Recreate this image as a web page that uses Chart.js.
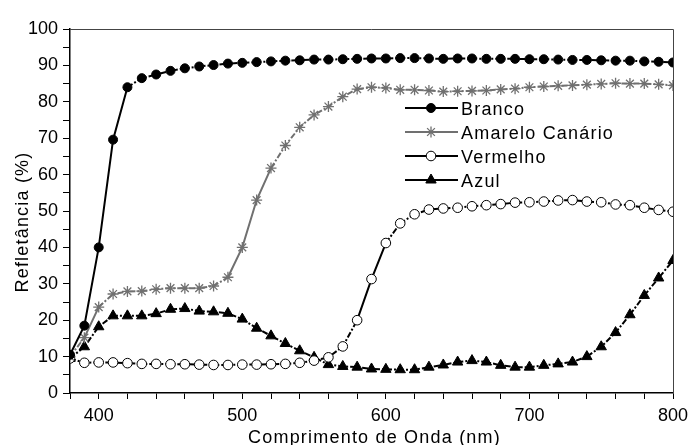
<!DOCTYPE html>
<html>
<head>
<meta charset="utf-8">
<script src="https://cdn.jsdelivr.net/npm/chart.js@4.4.1/dist/chart.umd.min.js"></script>
<style>
html,body{margin:0;padding:0;background:#fff;}
canvas{display:block;}
</style>
</head>
<body>
<canvas id="c" width="688" height="445"></canvas>
<script>
// Data
const wavelengths = [380,390,400,410,420,430,440,450,460,470,480,490,500,510,520,530,540,550,560,570,580,590,600,610,620,630,640,650,660,670,680,690,700,710,720,730,740,750,760,770,780,790,800];
const branco = [10.5,18.5,40,69.6,84,86.5,87.5,88.5,89.2,89.7,90.1,90.5,90.7,90.9,91.1,91.3,91.4,91.6,91.6,91.7,91.8,91.9,91.9,92,92,91.9,91.8,91.9,91.9,91.8,91.8,91.8,91.7,91.7,91.6,91.5,91.5,91.4,91.3,91.3,91.1,91,90.8];
const amarelo = [10,15.2,23.6,27.2,27.9,28,28.5,28.8,28.8,28.8,29.4,31.8,40,53,61.8,68,73,76.4,78.7,81.4,83.5,84,83.8,83.3,83.3,83.1,82.8,82.9,83,83.1,83.4,83.6,84,84.2,84.4,84.5,84.7,84.9,85.1,85,85,84.8,84.5];
const vermelho = [9.5,8.3,8.4,8.4,8.2,8.0,8.0,7.9,7.9,7.8,7.7,7.7,7.8,7.8,7.9,8.0,8.3,8.9,9.8,12.8,20,31.3,41.2,46.6,49.1,50.4,50.7,50.9,51.3,51.6,51.9,52.3,52.4,52.6,52.9,53.0,52.6,52.4,51.8,51.6,50.9,50.3,49.8];
const azul = [9.5,12.7,18.2,21.2,21.2,21.2,21.8,23.0,23.2,22.5,22.3,21.9,20.3,17.8,15.7,13.6,11.6,9.8,7.8,7.3,7.1,6.6,6.5,6.4,6.4,7.1,7.7,8.5,8.9,8.5,7.6,7.1,7.1,7.6,8.0,8.5,10,12.7,16.6,21.5,26.8,31.6,36.4];
const seriesNames = ["Branco","Amarelo Canário","Vermelho","Azul"];
const xTicksMajor = [400,500,600,700,800];
const yTicksMajor = [0,10,20,30,40,50,60,70,80,90,100];
const xTitle = "Comprimento de Onda (nm)";
const yTitle = "Refletância (%)";

const pts = arr => arr.map((v,i)=>({x:wavelengths[i], y:v}));
const FONT = "'Liberation Sans', Arial, sans-serif";
const DASH = [6,2,2,2];

const styles = [
  {color:'#000', point:'circle', r:4.5, fill:'#000', bw:1},
  {color:'#707070', point:'star', r:5.5, fill:'#707070', bw:1.3},
  {color:'#000', point:'circle', r:4.8, fill:'#fff', bw:1},
  {color:'#000', point:'triangle', r:6, fill:'#000', bw:1}
];
const allData = [branco, amarelo, vermelho, azul];

const segDash = c => (Math.abs(c.p1.y - c.p0.y) > 28 ? [] : DASH);

const datasets = allData.map((d,i)=>({
  label: seriesNames[i],
  data: pts(d),
  borderColor: styles[i].color,
  borderWidth: 2,
  borderDash: DASH,
  segment: { borderDash: segDash },
  pointStyle: styles[i].point,
  pointRadius: styles[i].r,
  pointBackgroundColor: styles[i].fill,
  pointBorderColor: styles[i].color,
  pointBorderWidth: styles[i].bw,
  tension: 0,
  clip: 0,
  fill: false
}));

function drawMarker(ctx, st, x, y){
  ctx.save();
  ctx.setLineDash([]);
  ctx.lineWidth = st.bw;
  ctx.strokeStyle = st.color;
  ctx.fillStyle = st.fill;
  const r = st.r;
  ctx.beginPath();
  if (st.point === 'circle'){
    ctx.arc(x,y,r,0,Math.PI*2);
    ctx.fill(); ctx.stroke();
  } else if (st.point === 'triangle'){
    ctx.moveTo(x, y - r);
    ctx.lineTo(x + r*0.866, y + r*0.5);
    ctx.lineTo(x - r*0.866, y + r*0.5);
    ctx.closePath();
    ctx.fill(); ctx.stroke();
  } else if (st.point === 'star'){
    for (let k=0;k<4;k++){
      const a = k*Math.PI/4;
      ctx.moveTo(x - r*Math.cos(a), y - r*Math.sin(a));
      ctx.lineTo(x + r*Math.cos(a), y + r*Math.sin(a));
    }
    ctx.stroke();
  }
  ctx.restore();
}

const decor = {
  id:'decor',
  afterDraw(chart){
    const ctx = chart.ctx, a = chart.chartArea;
    ctx.save();
    // top & right frame
    ctx.strokeStyle = '#444';
    ctx.lineWidth = 1;
    ctx.beginPath();
    ctx.moveTo(a.left, a.top+0.5); ctx.lineTo(a.right+0.5, a.top+0.5); ctx.lineTo(a.right+0.5, a.bottom);
    ctx.stroke();

    ctx.fillStyle = '#000';
    ctx.font = "18px " + FONT;
    try { ctx.letterSpacing = '1.2px'; } catch(e){}
    // x title
    ctx.textAlign = 'center';
    ctx.textBaseline = 'alphabetic';
    ctx.fillText(xTitle, (a.left + a.right)/2 + 3, 443);
    // y title
    ctx.save();
    ctx.translate(28, 222);
    ctx.rotate(-Math.PI/2);
    ctx.textAlign = 'center';
    ctx.fillText(yTitle, 0, 0);
    ctx.restore();

    // legend
    const rows = [108, 132, 156, 180];
    seriesNames.forEach((name,i)=>{
      const y = rows[i], st = styles[i];
      ctx.save();
      ctx.setLineDash([]);
      ctx.strokeStyle = st.color;
      ctx.lineWidth = 2;
      ctx.beginPath();
      ctx.moveTo(405, y); ctx.lineTo(458, y);
      ctx.stroke();
      ctx.restore();
      drawMarker(ctx, st, 431, y);
      ctx.textAlign = 'left';
      ctx.textBaseline = 'alphabetic';
      ctx.fillStyle = '#000';
      ctx.fillText(name, 461, y + 7);
    });
    ctx.restore();
  }
};

new Chart(document.getElementById('c'), {
  type: 'line',
  data: { datasets },
  options: {
    responsive: false,
    devicePixelRatio: 1,
    animation: false,
    events: [],
    layout: { padding: { top: 29, right: 15, left: 0, bottom: 0 } },
    plugins: { legend: { display: false }, tooltip: { enabled: false } },
    scales: {
      x: {
        type: 'linear',
        min: 380, max: 800,
        afterFit: s => { s.height = 52; s.paddingRight = 0; s.paddingLeft = 0; },
        ticks: {
          stepSize: 20, autoSkip: false, maxRotation: 0,
          color: '#000', padding: 6,
          font: { size: 18, family: FONT },
          callback: v => xTicksMajor.includes(v) ? String(v) : ''
        },
        grid: { drawOnChartArea: false, drawTicks: true, tickLength: 6, color: '#000', lineWidth: 1 },
        border: { display: true, color: '#000', width: 1.5 }
      },
      y: {
        min: 0, max: 100,
        afterFit: s => { s.width = 70; s.paddingTop = 0; s.paddingBottom = 0; },
        ticks: {
          stepSize: 5, autoSkip: false,
          color: '#000', padding: 5,
          font: { size: 18, family: FONT },
          callback: v => yTicksMajor.includes(v) ? String(v) : ''
        },
        grid: { drawOnChartArea: false, drawTicks: true, tickLength: 7, color: '#000', lineWidth: 1 },
        border: { display: true, color: '#000', width: 1.5 }
      }
    }
  },
  plugins: [decor]
});
</script>
</body>
</html>
